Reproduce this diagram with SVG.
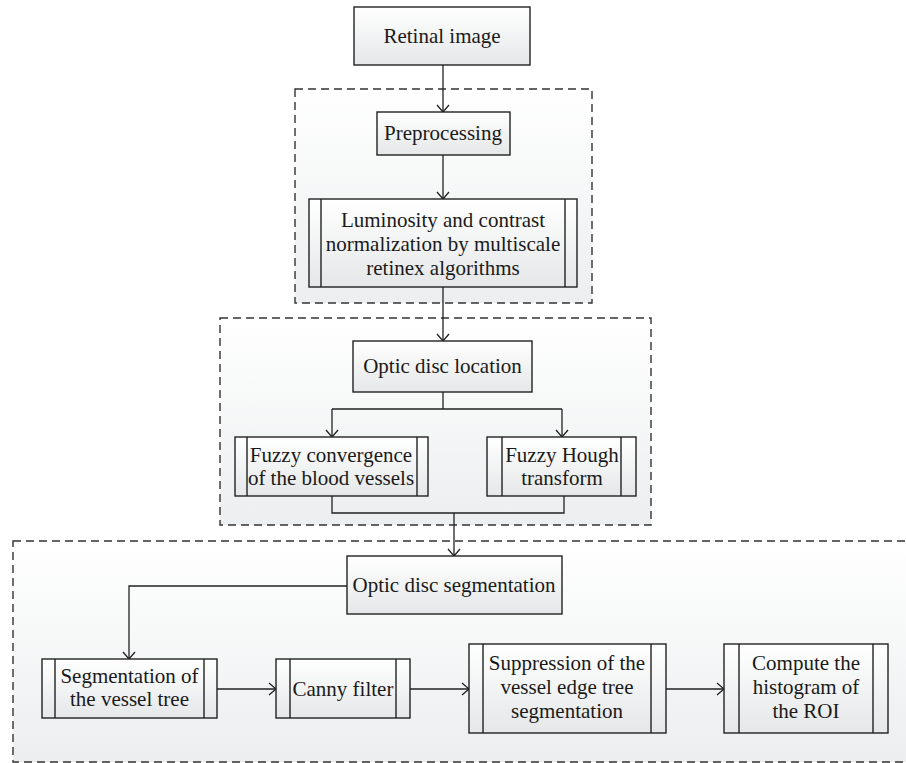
<svg xmlns="http://www.w3.org/2000/svg" width="906" height="763" viewBox="0 0 906 763">
<defs>
<linearGradient id="gBox" x1="0" y1="0" x2="0" y2="1">
<stop offset="0" stop-color="#ffffff"/>
<stop offset="1" stop-color="#e5e7e8"/>
</linearGradient>
<linearGradient id="gCont" x1="0" y1="0" x2="0" y2="1">
<stop offset="0" stop-color="#ffffff"/>
<stop offset="1" stop-color="#eceeef"/>
</linearGradient>
<marker id="arr" viewBox="-9 -8 11 16" refX="0" refY="0" markerWidth="11" markerHeight="16" markerUnits="userSpaceOnUse" orient="auto">
<path d="M-7,-6 L0,0 L-7,6" fill="none" stroke="#222" stroke-width="1.3"/>
</marker>
</defs>
<style>
.cont{fill:url(#gCont);stroke:#333;stroke-width:1.4;stroke-dasharray:8 5}
.box{fill:url(#gBox);stroke:#222;stroke-width:1.4}
.in{stroke:#222;stroke-width:1.4;fill:none}
.t{font-family:"Liberation Serif","Times New Roman",serif;font-size:21px;fill:#1a1a1a;text-anchor:middle}
.c{fill:none;stroke:#222;stroke-width:1.3}
</style>
<rect width="906" height="763" fill="#ffffff"/>
<g id="containers">
<rect class="cont" x="295" y="89" width="297" height="214"/>
<rect class="cont" x="220" y="318" width="431" height="207"/>
<rect class="cont" x="13" y="541" width="900" height="221"/>
</g>
<g id="connectors">
<path class="c" d="M443,65 V112" marker-end="url(#arr)"/>
<path class="c" d="M443,155 V199" marker-end="url(#arr)"/>
<path class="c" d="M443,287 V341" marker-end="url(#arr)"/>
<path class="c" d="M443,392 V409 M332,409 H562"/>
<path class="c" d="M332,409 V437" marker-end="url(#arr)"/>
<path class="c" d="M562,409 V437" marker-end="url(#arr)"/>
<path class="c" d="M332,496 V513 H564 V496"/>
<path class="c" d="M454,513 V556" marker-end="url(#arr)"/>
<path class="c" d="M347,586 H129 V659" marker-end="url(#arr)"/>
<path class="c" d="M217,689 H276" marker-end="url(#arr)"/>
<path class="c" d="M410,689 H469" marker-end="url(#arr)"/>
<path class="c" d="M666,689 H724" marker-end="url(#arr)"/>
</g>
<g id="retinal">
<rect class="box" x="354" y="7" width="176" height="58"/>
<text class="t" x="442" y="43">Retinal image</text>
</g>
<g id="preprocessing">
<rect class="box" x="377" y="112" width="133" height="43"/>
<text class="t" x="443" y="140">Preprocessing</text>
</g>
<g id="luminosity">
<rect class="box" x="309" y="199" width="268" height="88"/>
<path class="in" d="M321,199 V287 M565,199 V287"/>
<text class="t" x="443" y="227">Luminosity and contrast</text>
<text class="t" x="443" y="251">normalization by multiscale</text>
<text class="t" x="443" y="275">retinex algorithms</text>
</g>
<g id="optic-location">
<rect class="box" x="353" y="341" width="179" height="51"/>
<text class="t" x="442.5" y="373">Optic disc location</text>
</g>
<g id="fuzzy-convergence">
<rect class="box" x="235" y="437" width="193" height="59"/>
<path class="in" d="M247,437 V496 M417,437 V496"/>
<text class="t" x="331" y="462">Fuzzy convergence</text>
<text class="t" x="331" y="485">of the blood vessels</text>
</g>
<g id="fuzzy-hough">
<rect class="box" x="487" y="437" width="149" height="59"/>
<path class="in" d="M502,437 V496 M621,437 V496"/>
<text class="t" x="562" y="462">Fuzzy Hough</text>
<text class="t" x="562" y="485">transform</text>
</g>
<g id="optic-segmentation">
<rect class="box" x="347" y="556" width="215" height="58"/>
<text class="t" x="454" y="592">Optic disc segmentation</text>
</g>
<g id="vessel-tree">
<rect class="box" x="42" y="659" width="175" height="59"/>
<path class="in" d="M55,659 V718 M204,659 V718"/>
<text class="t" x="129.5" y="683">Segmentation of</text>
<text class="t" x="129.5" y="706">the vessel tree</text>
</g>
<g id="canny">
<rect class="box" x="276" y="659" width="134" height="59"/>
<path class="in" d="M290,659 V718 M396,659 V718"/>
<text class="t" x="343" y="696">Canny filter</text>
</g>
<g id="suppression">
<rect class="box" x="469" y="644" width="197" height="89"/>
<path class="in" d="M483,644 V733 M651,644 V733"/>
<text class="t" x="567" y="670">Suppression of the</text>
<text class="t" x="567" y="694">vessel edge tree</text>
<text class="t" x="567" y="718">segmentation</text>
</g>
<g id="compute">
<rect class="box" x="724" y="644" width="164" height="89"/>
<path class="in" d="M739,644 V733 M873,644 V733"/>
<text class="t" x="806" y="670">Compute the</text>
<text class="t" x="806" y="694">histogram of</text>
<text class="t" x="806" y="718">the ROI</text>
</g>
</svg>
